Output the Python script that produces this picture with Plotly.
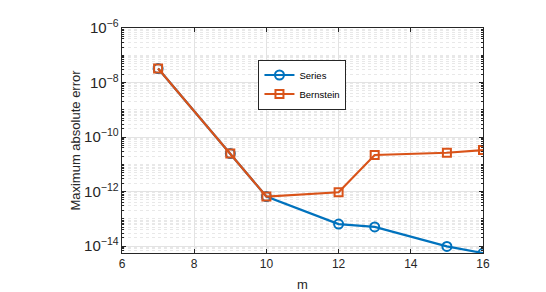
import plotly.graph_objects as go

m_vals = [7, 9, 10, 12, 13, 15, 16]
series_err = [3.25e-8, 2.5e-11, 6.6e-13, 6.45e-14, 5.1e-14, 9.8e-15, 5.6e-15]
bernstein_err = [3.25e-8, 2.5e-11, 6.6e-13, 9.5e-13, 2.2e-11, 2.67e-11, 3.35e-11]
x_ticks = [6, 8, 10, 12, 14, 16]

blue = "#0072BD"
orange = "#D95319"
axcol = "#262626"
gridcol = "#e3e3e3"

fig = go.Figure()
fig.add_trace(go.Scatter(x=m_vals, y=series_err, name="Series", mode="lines+markers",
                         line=dict(color=blue, width=2.2),
                         marker=dict(symbol="circle-open", size=9, color=blue, line=dict(width=2))))
fig.add_trace(go.Scatter(x=m_vals, y=bernstein_err, name="Bernstein", mode="lines+markers",
                         line=dict(color=orange, width=2.2),
                         marker=dict(symbol="square-open", size=8, color=orange, line=dict(width=2))))

# page body has an 8px margin, so the figure is sized/offset to compensate
fig.update_layout(
    width=538, height=284,
    margin=dict(l=113.5, r=63, t=19.6, b=38.7, autoexpand=False),
    paper_bgcolor="white", plot_bgcolor="white",
    font=dict(family="Liberation Sans, Arial, sans-serif", size=11, color=axcol),
    showlegend=True,
    legend=dict(x=0.378, y=0.86, xanchor="left", yanchor="top",
                bgcolor="white", bordercolor=axcol, borderwidth=1,
                font=dict(size=9.5, color="#000000"),
                tracegroupgap=0, itemwidth=30),
)
fig.update_xaxes(
    range=[6, 16], tickmode="array", tickvals=x_ticks, automargin=False,
    showgrid=True, gridcolor=gridcol, gridwidth=1,
    showline=True, linecolor=axcol, linewidth=1, mirror="ticks",
    ticks="inside", ticklen=4, tickcolor=axcol, zeroline=False,
    tickfont=dict(size=12),
    title=dict(text="m", font=dict(size=13), standoff=9),
)
fig.update_yaxes(
    type="log", range=[-14.25, -6], dtick=2, exponentformat="power", showexponent="all",
    automargin=False,
    showgrid=True, gridcolor=gridcol, gridwidth=1,
    showline=True, linecolor=axcol, linewidth=1, mirror="ticks",
    ticks="inside", ticklen=4, tickcolor=axcol, zeroline=False,
    tickfont=dict(size=12),
    minor=dict(dtick="D1", showgrid=True, gridcolor="#e8e8e8", griddash="dot",
               ticks="inside", ticklen=2, tickcolor=axcol),
    title=dict(text="Maximum absolute error", font=dict(size=13), standoff=0),
)

fig.write_html("out.html")
